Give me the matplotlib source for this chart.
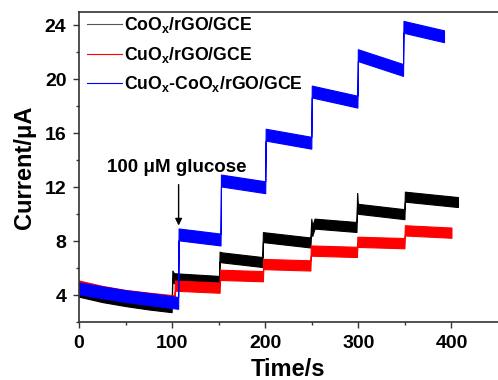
import matplotlib
matplotlib.use('Agg')
import matplotlib.pyplot as plt
from matplotlib.lines import Line2D

# values (centre of each noisy band)
coox_t = [0, 25, 50, 75, 99.5, 100.3, 102, 150.5, 151, 153, 197, 197.5, 248.5,
          249.5, 250.5, 253, 298, 298.7, 299.5, 349.5, 350, 407]
coox_i = [4.25, 3.85, 3.55, 3.3, 3.1, 5.45, 5.25, 5.05, 6.85, 6.8, 6.45, 8.3, 7.9,
          9.3, 8.75, 9.3, 9.05, 11.2, 10.4, 10.0, 11.3, 10.9]

cuox_t = [0, 25, 50, 75, 102.5, 103, 151, 151.5, 197.5, 198, 248.5, 249, 298.5,
          299, 349.5, 350, 400]
cuox_i = [4.7, 4.3, 4.0, 3.8, 3.6, 4.7, 4.55, 5.5, 5.4, 6.3, 6.2, 7.3, 7.2,
          7.95, 7.85, 8.8, 8.63]

mix_t = [0, 25, 50, 75, 106.5, 107, 152, 152.5, 200, 200.5, 249.5, 250, 299,
         299.5, 348, 348.5, 392]
mix_i = [4.5, 4.2, 3.92, 3.7, 3.42, 8.5, 8.12, 12.5, 12.0, 15.9, 15.3, 19.1, 18.35,
         21.8, 20.7, 23.9, 23.2]

# half width of the noise band of each trace
coox_noise = 0.37
cuox_noise = 0.38
mix_noise = 0.44

labels = ['CoO$_{x}$/rGO/GCE', 'CuO$_{x}$/rGO/GCE', 'CuO$_{x}$-CoO$_{x}$/rGO/GCE']

plt.rcParams['font.family'] = ['Liberation Sans', 'DejaVu Sans']
plt.rcParams['font.weight'] = 'bold'
plt.rcParams['mathtext.fontset'] = 'custom'
plt.rcParams['mathtext.bf'] = 'Liberation Sans:bold'
plt.rcParams['mathtext.rm'] = 'Liberation Sans:bold'
plt.rcParams['mathtext.default'] = 'bf'


def band(ax, t, v, w, color):
    lo = [x - w for x in v]
    hi = [x + w for x in v]
    ax.fill_between(t, lo, hi, color=color, lw=0.8)


fig = plt.figure(figsize=(4.98, 3.8), dpi=100)
ax = fig.add_axes([0.1586, 0.1526, 0.8414, 0.8158])

band(ax, coox_t, coox_i, coox_noise, 'black')
band(ax, cuox_t, cuox_i, cuox_noise, 'red')
band(ax, mix_t, mix_i, mix_noise, 'blue')

ax.set_xlim(0, 450)
ax.set_ylim(2, 25)
ax.set_xticks([0, 100, 200, 300, 400])
ax.set_xticks(range(50, 450, 100), minor=True)
ax.set_yticks([4, 8, 12, 16, 20, 24])
ax.set_yticks([2, 6, 10, 14, 18, 22], minor=True)

ax.spines['right'].set_visible(False)
for s in ['left', 'bottom', 'top']:
    ax.spines[s].set_color('#333333')
    ax.spines[s].set_linewidth(1.2)

ax.tick_params(which='major', direction='out', length=4, width=1, labelsize=14,
               pad=5, color='#333333')
ax.tick_params(which='minor', direction='out', length=2.5, width=1, color='#333333')

ax.set_xlabel('Time/s', fontsize=17, fontweight='bold', labelpad=5)
ax.set_ylabel('Current/\u03bcA', fontsize=17, fontweight='bold', labelpad=6)

# glucose addition marker
ax.annotate('', xy=(107, 8.95), xytext=(107, 12.4),
            arrowprops=dict(arrowstyle='-|>', color='black', lw=1,
                            mutation_scale=10))
ax.text(104.5, 13.45, '100 \u03bcM glucose', fontsize=13.5, fontweight='bold',
        ha='center', va='center')

handles = [Line2D([], [], color='#555555', lw=0.8),
           Line2D([], [], color='red', lw=0.8),
           Line2D([], [], color='blue', lw=0.8)]
ax.legend(handles, labels, loc='upper left', bbox_to_anchor=(-0.01, 1.03),
          frameon=False, fontsize=12.7, handlelength=1.95, handletextpad=0.15,
          labelspacing=0.55, borderaxespad=0.3)

fig.savefig('out.png', dpi=100)
